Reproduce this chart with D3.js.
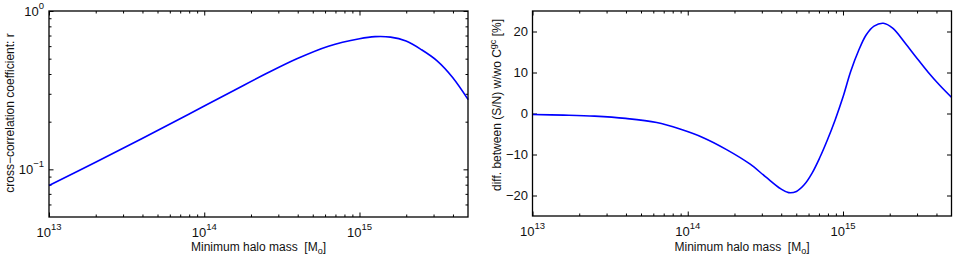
<!DOCTYPE html>
<html>
<head>
<meta charset="utf-8">
<script src="https://cdn.jsdelivr.net/npm/d3@7"></script>
<style>
  body { margin: 0; background: #fff; }
  svg { display: block; font-family: "Liberation Sans", Arial, Helvetica, sans-serif; }
</style>
</head>
<body>
<svg id="fig" width="954" height="260"></svg>
<script>
// log10 of minimum halo mass, and values
let logMassR = [13.0, 13.3, 13.6, 13.9, 14.2, 14.4, 14.6, 14.8, 15.0, 15.1, 15.2, 15.3, 15.4, 15.5, 15.6, 15.7];
let corrR    = [0.0791, 0.1109, 0.1567, 0.2228, 0.3184, 0.4027, 0.5012, 0.5998, 0.6683, 0.6887, 0.6839, 0.6457, 0.5689, 0.4842, 0.3802, 0.2754];

let logMassD = [13.0, 13.2, 13.4, 13.6, 13.8, 13.95, 14.1, 14.25, 14.4, 14.5, 14.6, 14.65, 14.7, 14.75, 14.8, 14.85, 14.9, 14.95, 15.0, 15.05, 15.1, 15.15, 15.2, 15.26, 15.32, 15.4, 15.47, 15.55, 15.62, 15.7];
let diffSN   = [-0.25, -0.4, -0.65, -1.2, -2.2, -3.8, -5.9, -8.8, -12.3, -15.4, -18.4, -19.3, -19.0, -17.4, -14.6, -10.8, -6.4, -1.5, 4.0, 10.3, 15.3, 19.2, 21.3, 22.0, 20.8, 17.2, 13.8, 10.0, 7.0, 3.9];

let xMajor = [1e13, 1e14, 1e15];
let xExp = ["13", "14", "15"];
let xMinor = [2e13,3e13,4e13,5e13,6e13,7e13,8e13,9e13,2e14,3e14,4e14,5e14,6e14,7e14,8e14,9e14,2e15,3e15,4e15];
let rMajor = [0.1, 1];
let rExp = ["\u22121", "0"];
let rMinor = [0.06,0.07,0.08,0.09,0.2,0.3,0.4,0.5,0.6,0.7,0.8,0.9];
let dTicks = [-20, -10, 0, 10, 20];

const svg = d3.select("#fig");
const MAJ = 4.5, MIN = 2.5;

function panel(opt) {
  let g = svg.append("g");
  let x = d3.scaleLog().domain([1e13, 5e15]).range([opt.left, opt.right]);
  let y = opt.y;

  // ticks (inward on all four sides)
  let top = g.append("g").attr("transform", "translate(0," + opt.top + ")");
  let bot = g.append("g").attr("transform", "translate(0," + opt.bottom + ")");
  top.call(d3.axisTop(x).tickValues(xMajor).tickSize(-MAJ).tickFormat(""));
  top.append("g").call(d3.axisTop(x).tickValues(xMinor).tickSize(-MIN).tickFormat(""));
  bot.call(d3.axisBottom(x).tickValues(xMajor).tickSize(-MAJ).tickFormat(""));
  bot.append("g").call(d3.axisBottom(x).tickValues(xMinor).tickSize(-MIN).tickFormat(""));

  let lft = g.append("g").attr("transform", "translate(" + opt.left + ",0)");
  let rgt = g.append("g").attr("transform", "translate(" + opt.right + ",0)");
  lft.call(d3.axisLeft(y).tickValues(opt.yMajor).tickSize(-MAJ).tickFormat(""));
  rgt.call(d3.axisRight(y).tickValues(opt.yMajor).tickSize(-MAJ).tickFormat(""));
  if (opt.yMinor) {
    lft.append("g").call(d3.axisLeft(y).tickValues(opt.yMinor).tickSize(-MIN).tickFormat(""));
    rgt.append("g").call(d3.axisRight(y).tickValues(opt.yMinor).tickSize(-MIN).tickFormat(""));
  }
  g.selectAll(".domain").remove();
  g.selectAll(".tick line").attr("stroke", "#000").attr("stroke-width", 1);

  // curve
  let line = d3.line()
    .x((d, i) => x(Math.pow(10, opt.lx[i])))
    .y(d => y(d))
    .curve(d3.curveCatmullRom.alpha(0.5));
  g.append("path")
    .datum(opt.vals)
    .attr("d", line)
    .attr("fill", "none")
    .attr("stroke", "#0000ff")
    .attr("stroke-width", 1.6);

  // box
  g.append("rect")
    .attr("x", opt.left).attr("y", opt.top)
    .attr("width", opt.right - opt.left).attr("height", opt.bottom - opt.top)
    .attr("fill", "none").attr("stroke", "#000").attr("stroke-width", 1.3);

  // x tick labels
  xMajor.forEach((v, i) => {
    let t = g.append("text").attr("x", x(v)).attr("y", opt.bottom + 19.5)
      .attr("text-anchor", "middle").attr("font-size", 13).attr("fill", "#111");
    t.append("tspan").text("10");
    t.append("tspan").attr("dy", -6.5).attr("font-size", 9.5).text(xExp[i]);
  });

  // x label
  let xl = g.append("text")
    .attr("x", (opt.left + opt.right) / 2).attr("y", 250.5)
    .attr("text-anchor", "middle").attr("font-size", 12).attr("fill", "#111")
    .style("white-space", "pre");
  xl.append("tspan").text("Minimum halo mass  [M");
  xl.append("tspan").attr("dy", 3.5).attr("font-size", 9).text("o");
  xl.append("tspan").attr("dy", -3.5).text("]");
  return g;
}

// left: cross-correlation coefficient
let yR = d3.scaleLog().domain([0.05, 1]).range([217, 11]);
let gL = panel({ left: 49, right: 468, top: 11, bottom: 217, y: yR,
  yMajor: rMajor, yMinor: rMinor, lx: logMassR, vals: corrR });

rMajor.forEach((v, i) => {
  let t = gL.append("text").attr("x", 44).attr("y", yR(v) + 4.5)
    .attr("text-anchor", "end").attr("font-size", 13).attr("fill", "#111");
  t.append("tspan").text("10");
  t.append("tspan").attr("dy", -6.5).attr("font-size", 9.5).text(rExp[i]);
});
gL.append("text")
  .attr("transform", "translate(14,113) rotate(-90)")
  .attr("text-anchor", "middle").attr("font-size", 12).attr("fill", "#111")
  .text("cross\u2212correlation coefficient: r");

// right: difference in S/N
let yD = d3.scaleLinear().domain([-25, 25]).range([216, 11]);
let gR = panel({ left: 532.5, right: 951.5, top: 11, bottom: 216, y: yD,
  yMajor: dTicks, yMinor: null, lx: logMassD, vals: diffSN });

dTicks.forEach(v => {
  gR.append("text").attr("x", 528).attr("y", yD(v) + 4.5)
    .attr("text-anchor", "end").attr("font-size", 13).attr("fill", "#111")
    .text(v < 0 ? "\u2212" + Math.abs(v) : String(v));
});
let yl = gR.append("text")
  .attr("transform", "translate(501,105) rotate(-90)")
  .attr("text-anchor", "middle").attr("font-size", 12).attr("fill", "#111");
yl.append("tspan").text("diff. between (S/N) w/wo C");
yl.append("tspan").attr("dy", -5).attr("font-size", 9).text("gc");
yl.append("tspan").attr("dy", 5).text(" [%]");
</script>
</body>
</html>
